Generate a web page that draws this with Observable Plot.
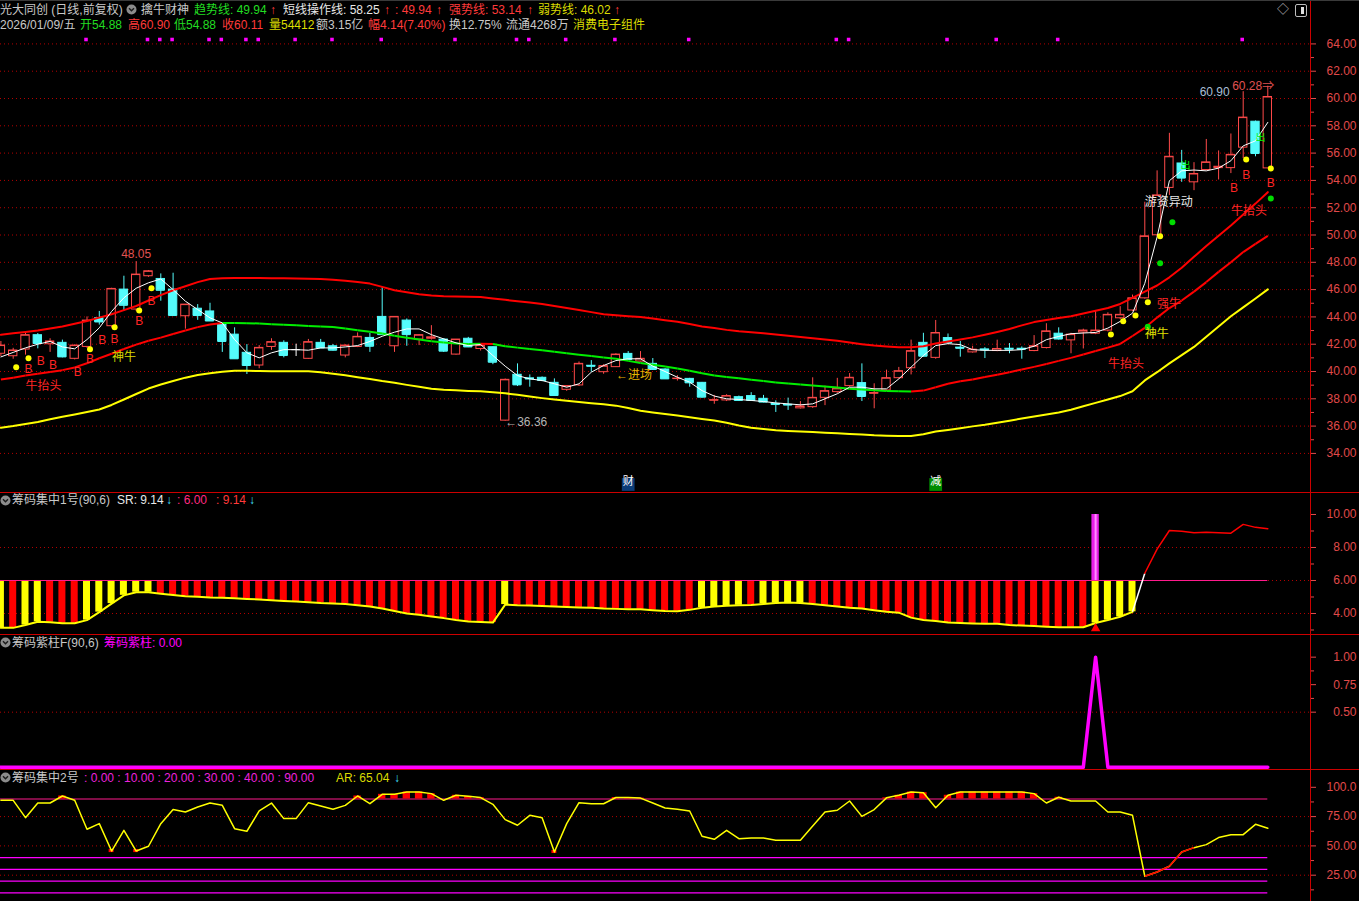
<!DOCTYPE html>
<html><head><meta charset="utf-8">
<script src="https://cdn.jsdelivr.net/npm/d3@7"></script>
<script src="https://cdn.jsdelivr.net/npm/@observablehq/plot@0.6"></script>
<style>
body{margin:0;background:#000;overflow:hidden;}
#root{position:relative;width:1359px;height:901px;background:#000;font-family:"Liberation Sans","Noto Sans CJK SC",sans-serif;font-size:12px;overflow:hidden;}
.pane{position:absolute;left:0;}
.t{position:absolute;white-space:nowrap;line-height:14px;font-size:12px;z-index:5;}
.sep{position:absolute;left:0;width:1359px;height:1px;background:#cc0000;z-index:4;}
.ico{position:absolute;z-index:5;}
</style></head><body><div id="root"></div>
<script>
// ================= DATA =================
// K-line (daily, 104 bars)
const open  = [41.3,41.12,41.61,42.66,42.0,42.1,40.93,41.8,43.9,43.32,
  46.0,44.54,46.98,46.78,46.0,44.05,44.6,44.4,43.44,42.7,
  41.37,40.44,41.8,42.1,41.6,40.93,42.1,41.85,41.17,41.8,
  42.46,44.0,41.85,43.73,42.34,42.4,42.34,41.24,42.4,41.65,
  41.78,36.4,39.76,39.5,39.54,39.17,38.66,38.98,40.42,39.95,
  40.32,41.29,40.73,40.56,40.15,39.46,39.46,39.17,37.88,37.88,
  38.12,38.2,38.0,37.62,37.56,37.3,37.39,38.07,38.49,38.93,
  39.15,38.38,38.61,39.51,40.24,42.1,41.0,42.45,41.75,41.4,
  41.62,41.5,41.67,41.67,41.5,41.72,42.77,42.28,42.86,42.77,
  43.0,43.9,44.47,45.36,49.98,53.45,55.24,53.86,54.76,54.9,
  54.9,56.4,58.3,54.88];
const high  = [42.2,41.7,42.8,42.78,42.4,42.3,41.95,44.0,44.4,46.1,
  46.98,48.05,47.4,47.15,47.2,44.9,44.9,45.0,43.44,43.2,
  41.97,41.9,42.4,42.25,42.0,42.35,42.35,41.98,41.95,42.83,
  42.8,46.15,44.0,43.85,42.7,43.36,42.4,42.34,42.5,41.95,
  41.8,39.45,40.56,39.75,39.6,39.46,38.95,40.7,40.8,40.5,
  41.3,41.46,41.46,40.95,40.2,39.7,39.5,39.2,38.25,38.3,
  38.2,38.45,38.25,37.85,38.05,37.8,39.54,38.93,39.5,39.85,
  40.56,39.1,40.1,40.3,42.3,42.8,43.74,42.75,42.2,41.85,
  41.75,42.3,42.05,41.8,42.63,43.5,43.2,42.8,43.1,44.47,
  44.3,44.75,45.6,52.4,54.7,57.45,56.2,55.3,57.0,56.16,
  57.4,60.5,58.35,60.9];
const low   = [41.1,40.9,41.2,41.66,41.4,41.0,40.85,41.7,43.4,43.2,
  44.4,44.4,46.9,45.15,44.1,43.1,43.75,43.7,41.4,40.93,
  39.78,40.2,41.55,41.0,41.1,40.9,41.7,41.5,41.0,41.75,
  41.4,42.7,41.4,41.85,41.9,42.3,41.4,41.2,41.75,41.5,
  40.5,36.36,38.9,38.85,39.25,38.2,38.55,38.9,39.95,39.8,
  40.3,40.85,40.7,40.1,39.45,39.3,38.85,38.05,37.6,37.8,
  37.8,37.8,37.7,37.0,37.15,37.25,37.3,37.5,38.4,38.85,
  37.8,37.27,38.55,39.45,39.75,41.05,40.9,42.0,41.05,41.35,
  40.95,41.45,41.3,40.9,41.45,41.65,42.3,41.3,41.65,42.7,
  42.9,43.8,44.4,45.3,49.9,52.9,53.86,53.25,54.7,54.03,
  54.5,55.6,55.73,54.88];
const close = [41.9,41.54,42.66,42.05,42.2,41.07,41.9,43.73,43.63,46.05,
  44.85,47.1,47.34,45.95,44.1,44.9,44.1,43.7,42.2,40.93,
  40.44,41.73,42.15,41.17,41.6,42.15,41.73,41.56,41.9,42.54,
  41.85,42.7,44.0,42.7,42.66,42.5,41.49,42.34,41.8,41.9,
  40.68,39.39,39.02,39.45,39.34,38.24,38.93,40.56,40.38,40.39,
  41.24,40.88,40.93,40.15,39.46,39.48,39.17,38.12,37.9,38.2,
  37.88,37.88,37.76,37.58,37.54,37.44,38.07,38.56,38.73,39.54,
  38.17,38.42,39.51,40.02,41.49,41.12,42.82,42.1,41.7,41.6,
  41.58,41.65,41.63,41.62,41.85,42.94,42.38,42.7,43.0,43.0,
  44.15,44.15,45.36,49.9,52.9,55.73,54.17,54.47,55.32,55.0,
  55.87,58.6,55.97,60.11];

// 短线操作线 (white)
const shortLine = [41.07,41.4,41.73,42.0,42.2,41.8,41.66,42.34,43.2,44.4,
  45.4,46.1,46.5,46.78,46.0,45.15,44.54,43.93,43.56,42.34,
  41.37,41.0,41.37,41.6,41.6,41.56,41.73,41.73,41.8,41.9,
  42.2,42.58,42.88,43.12,43.12,42.7,42.39,42.1,41.9,41.98,
  41.17,40.39,39.7,39.46,39.34,39.1,38.85,39.1,39.95,40.44,
  40.8,40.93,40.93,40.39,40.0,39.58,39.22,38.6,38.2,38.0,
  37.95,37.88,37.8,37.7,37.63,37.56,37.63,38.0,38.37,38.85,
  38.85,38.73,38.73,39.46,40.32,41.17,41.9,42.04,41.97,41.6,
  41.55,41.55,41.55,41.6,41.85,42.33,42.57,42.77,42.82,42.86,
  43.18,43.67,44.27,46.46,49.85,53.98,54.7,54.76,54.7,54.9,
  55.44,56.53,56.9,58.25];
// 强势线 (upper red)
const strongLine = [42.7,42.8,42.9,43.0,43.15,43.3,43.5,43.7,43.95,44.2,
  44.5,44.8,45.2,45.6,45.95,46.25,46.55,46.78,46.83,46.85,
  46.85,46.85,46.84,46.83,46.82,46.8,46.77,46.73,46.65,46.55,
  46.44,46.2,45.95,45.8,45.66,45.56,45.52,45.5,45.48,45.46,
  45.35,45.25,45.15,45.05,44.95,44.8,44.65,44.5,44.35,44.2,
  44.12,44.05,44.0,43.88,43.76,43.65,43.48,43.3,43.18,43.05,
  42.95,42.88,42.8,42.72,42.62,42.53,42.44,42.35,42.25,42.12,
  42.0,41.9,41.83,41.78,41.78,41.85,42.05,42.2,42.35,42.5,
  42.7,42.9,43.12,43.38,43.62,43.78,43.92,44.05,44.25,44.45,
  44.65,44.95,45.4,45.85,46.3,46.9,47.6,48.4,49.2,49.95,
  50.7,51.5,52.3,53.14];
// 趋势线 (middle, red rising / green falling)
const trendLine = [39.41,39.55,39.7,39.83,39.97,40.1,40.3,40.6,40.97,41.3,
  41.65,41.97,42.25,42.48,42.75,43.0,43.25,43.45,43.55,43.56,
  43.54,43.52,43.47,43.43,43.38,43.34,43.3,43.26,43.15,43.03,
  42.92,42.78,42.62,42.48,42.35,42.22,42.12,42.06,42.02,42.04,
  42.02,41.85,41.75,41.65,41.56,41.45,41.33,41.22,41.13,41.03,
  40.93,40.78,40.62,40.5,40.36,40.22,40.05,39.87,39.7,39.6,
  39.5,39.4,39.3,39.2,39.12,39.05,38.98,38.91,38.82,38.74,
  38.68,38.62,38.58,38.55,38.54,38.6,38.85,39.1,39.28,39.42,
  39.6,39.76,39.95,40.15,40.34,40.55,40.78,41.0,41.25,41.5,
  41.75,42.02,42.6,43.2,43.95,44.65,45.2,45.85,46.55,47.3,
  48.0,48.75,49.35,49.94];
const trendRuns = [["r",18],["g",21],["r",1],["g",34],["r",29]]; // segment colours
// 弱势线 (yellow)
const weakLine = [35.88,36.0,36.15,36.3,36.5,36.68,36.85,37.03,37.22,37.55,
  37.95,38.35,38.75,39.05,39.3,39.55,39.75,39.88,39.98,40.05,
  40.05,40.03,40.02,40.02,40.02,40.02,39.95,39.83,39.72,39.58,
  39.45,39.3,39.18,39.02,38.88,38.73,38.66,38.62,38.58,38.55,
  38.48,38.4,38.3,38.17,38.05,37.95,37.85,37.76,37.68,37.6,
  37.5,37.33,37.12,37.0,36.88,36.78,36.65,36.52,36.41,36.25,
  36.05,35.88,35.78,35.7,35.65,35.6,35.56,35.52,35.47,35.42,
  35.38,35.33,35.3,35.28,35.28,35.4,35.6,35.72,35.85,35.98,
  36.1,36.25,36.4,36.55,36.7,36.85,37.0,37.2,37.45,37.7,
  37.95,38.2,38.55,39.35,39.95,40.6,41.2,41.8,42.55,43.3,
  44.05,44.7,45.35,46.02];
const priceTicks = [34,36,38,40,42,44,46,48,50,52,54,56,58,60,62,64];
const priceMinor = [35,37,39,41,43,45,47,49,51,53,55,57,59,61,63];

// signals on the K-line
const topMarkIdx = [7,12,13,14,17,18,20,21,24,27,31,37,42,43,46,50,56,68,69,77,81,86,101];
const yellowSigIdx   = [1,2,7,9,11,12,90,91,92,93,94,101,103];
const yellowSigPrice = [40.32,40.98,41.63,43.25,44.47,46.1,42.71,43.68,44.1,45.08,49.91,55.53,54.87];
const greenSigIdx    = [93,94,95,103];
const greenSigPrice  = [43.27,47.93,50.94,52.67];
const bIdx   = [2,3,4,6,7,8,9,11,12,100,101,103];
const bPrice = [40.2,40.75,40.44,39.95,40.93,42.32,42.37,43.66,45.13,53.46,54.36,53.8];
const noteText   = ["48.05","←36.36","←进场","牛抬头","神牛","游资异动","强牛","神牛","牛抬头","牛抬头","60.90","60.28⇒"];
const noteIdx    = [11,41,50,2,10,93,94,93,90,100,99.9,100.1];
const notePrice  = [48.62,36.29,39.76,38.92,41.05,52.4,44.96,42.76,40.51,51.75,60.46,60.88];
const noteColor  = ["#e05252","#b4b4b4","#e6b400","#ff2424","#d8d800","#e8e8e8","#ff2424","#e0e000","#ff2424","#ff2424","#a9bfd6","#e05252"];
const noteAnchor = ["middle","start","start","start","middle","start","start","start","start","start","end","start"];
const chuIdx = [96.3,102.4], chuPrice = [55.09,57.14];
const flagText = ["财","减"], flagIdx = [51,76], flagBg = ["#0b3c78","#008c00"];

// 筹码集中1号 SR
const srValue = [3.13,3.13,3.3,3.5,3.47,3.41,3.41,3.6,4.08,4.6,
  5.1,5.29,5.29,5.2,5.12,5.05,5.02,4.97,4.95,4.92,
  4.88,4.85,4.8,4.76,4.72,4.68,4.63,4.6,4.57,4.5,
  4.42,4.3,4.15,4.0,3.92,3.82,3.72,3.6,3.52,3.48,
  3.45,4.54,4.5,4.48,4.45,4.42,4.4,4.37,4.35,4.3,
  4.28,4.26,4.25,4.2,4.15,4.14,4.22,4.35,4.42,4.47,
  4.5,4.52,4.58,4.63,4.66,4.63,4.58,4.5,4.42,4.35,
  4.3,4.2,4.1,4.05,3.75,3.6,3.54,3.45,3.42,3.4,
  3.38,3.38,3.3,3.27,3.24,3.2,3.17,3.17,3.17,3.42,
  3.6,3.8,4.1,6.44,7.9,9.03,8.99,8.9,8.93,8.9,
  8.87,9.4,9.22,9.14];
const srBarRuns = [["Y",1],["R",1],["Y",2],["R",3],["Y",6],["R",28],["Y",1],["R",15],["Y",4],["R",1],["Y",4],["R",23],["Y",4]];
const srLevel = 6, srPurpleIdx = 89, srPurpleTop = 10;
const srTicks = [4,6,8,10], srMinor = [3,5,7,9];

// 筹码紫柱F
const purpleF = [0,0,0,0,0,0,0,0,0,0, 0,0,0,0,0,0,0,0,0,0, 0,0,0,0,0,0,0,0,0,0,
  0,0,0,0,0,0,0,0,0,0, 0,0,0,0,0,0,0,0,0,0, 0,0,0,0,0,0,0,0,0,0,
  0,0,0,0,0,0,0,0,0,0, 0,0,0,0,0,0,0,0,0,0, 0,0,0,0,0,0,0,0,0,1,
  0,0,0,0,0,0,0,0,0,0, 0,0,0,0];
const fTicks = [0.5,0.75,1], fMinor = [0.625,0.875];

// 筹码集中2号 AR
const arValue = [88.9,88.9,74.1,86.6,86.6,92.6,88.9,64.2,69.0,45.6,
  63.3,45.6,49.7,69.0,81.0,78.9,83.2,86.6,84.6,64.7,
  62.5,79.8,86.6,73.3,73.3,86.9,84.0,81.2,84.6,92.6,
  86.0,94.0,94.0,96.0,96.0,94.6,88.9,93.2,92.3,91.2,
  85.5,72.4,67.6,76.1,74.1,44.8,69.0,86.9,86.0,86.0,
  91.3,91.3,90.8,86.6,82.4,81.2,79.8,58.2,55.6,63.3,
  56.2,56.7,56.7,54.8,54.8,54.8,67.0,78.9,80.4,88.3,
  75.2,81.0,91.0,93.2,96.0,95.4,82.6,93.2,96.0,96.0,
  96.0,96.0,96.0,96.0,94.6,86.6,91.5,88.3,88.3,88.3,
  78.9,78.9,76.1,24.1,27.7,32.6,44.8,48.5,51.1,57.1,
  59.6,59.6,68.4,65.04];
const arLevels = [90,40,30,20,10];
const arRedSeg = [93,94,95,96];
const arLowIdx = [9,11,45];
const arTicks = [25,50,75,100], arMinor = [12.5,37.5,62.5,87.5];

// ================= LAYOUT =================
const W = 1359, AXIS_X = 1310, STEP = 12.3, X0 = 0.4;
const N = close.length;
const idx = d3.range(N);
const xDomain = [-X0 / STEP, (AXIS_X - X0) / STEP];
const xScale = {domain: xDomain, range: [0, AXIS_X], axis: null};
const AXC = "#e04a4a", GRID = "#b40000";
const FONT = '"Liberation Sans","Noto Sans CJK SC",sans-serif';
const UP = "#ff4a4a", DOWN = "#54fcfc", FLAT = "#ffffff";
const expand = runs => runs.flatMap(([c, n]) => Array(n).fill(c));
const trendColors = expand(trendRuns);
const srBarColors = expand(srBarRuns);
const base = {width: W, marginTop: 0, marginBottom: 0, marginLeft: 0, marginRight: W - AXIS_X,
  x: xScale, color: {type: "identity"},
  style: {background: "transparent", fontFamily: FONT, fontSize: "12px", overflow: "visible"}};
const grid = v => Plot.ruleY(v, {stroke: GRID, strokeDasharray: "1,3"});
function axis(ticks, minor, fmt) {
  return [
    Plot.axisY(ticks, {anchor: "right", tickSize: 5, tickPadding: 41, textAnchor: "end",
      tickFormat: fmt, stroke: AXC, fill: AXC, fontSize: 12, label: null}),
    Plot.axisY(minor, {anchor: "right", tickSize: 3, tickFormat: () => "", stroke: AXC, label: null})
  ];
}

// ---- main K-line pane ----
const candles = idx.map(i => ({i, o: open[i], h: high[i], l: low[i], c: close[i]}));
const cCol = d => d.c > d.o ? UP : d.c < d.o ? DOWN : FLAT;
const trendSegs = d3.range(N - 1).map(k => ({k, c: trendColors[k]}));
const notes = noteText.map((t, k) => ({t, i: noteIdx[k], p: notePrice[k], c: noteColor[k], a: noteAnchor[k]}));
const ySig = yellowSigIdx.map((i, k) => ({i, p: yellowSigPrice[k]}));
const gSig = greenSigIdx.map((i, k) => ({i, p: greenSigPrice[k]}));
const bSig = bIdx.map((i, k) => ({i, p: bPrice[k]}));
const chu = chuIdx.map((i, k) => ({i, p: chuPrice[k]}));
const flags = flagText.map((t, k) => ({t, i: flagIdx[k], bg: flagBg[k]}));

const mainPlot = Plot.plot({...base, height: 492,
  y: {domain: [31.136, 67.18], range: [492, 0]},
  marks: [
    grid(priceTicks),
    ...axis(priceTicks, priceMinor, d => d.toFixed(2)),
    Plot.ruleX(candles, {x: "i", y1: "l", y2: "h", stroke: cCol}),
    Plot.rect(candles, {x1: d => d.i - 0.34, x2: d => d.i + 0.34, y1: "o", y2: "c",
      fill: d => d.c < d.o ? DOWN : "#000", stroke: cCol}),
    Plot.ruleY(candles, {x1: d => d.i - 0.34, x2: d => d.i + 0.34, y: "c", stroke: cCol}),
    Plot.line(idx, {x: i => i, y: i => weakLine[i], stroke: "#ffff00", strokeWidth: 2}),
    Plot.line(idx, {x: i => i, y: i => strongLine[i], stroke: "#ff0000", strokeWidth: 2}),
    Plot.link(trendSegs, {x1: d => d.k, y1: d => trendLine[d.k], x2: d => d.k + 1, y2: d => trendLine[d.k + 1],
      stroke: d => d.c === "r" ? "#ff0000" : "#00ee00", strokeWidth: 2}),
    Plot.line(idx, {x: i => i, y: i => shortLine[i], stroke: "#ffffff", strokeWidth: 1}),
    Plot.dot(ySig, {x: "i", y: "p", r: 3, fill: "#ffff00", dx: 3}),
    Plot.dot(gSig, {x: "i", y: "p", r: 3, fill: "#00dd00", dx: 3}),
    Plot.text(bSig, {x: "i", y: "p", text: () => "B", fill: "#ff2424", dx: 3, fontSize: 12}),
    ...["start", "middle", "end"].map(a => Plot.text(notes.filter(n => n.a === a),
      {x: "i", y: "p", text: "t", fill: "c", textAnchor: a, fontSize: 12, fontFamily: FONT})),
    Plot.text(chu, {x: "i", y: "p", text: () => "出", fill: "#00ee00", fontSize: 10}),
    Plot.dot(topMarkIdx, {x: d => d, frameAnchor: "top", dy: 39, dx: -1, symbol: "square", r: 2, fill: "#ff00ff"}),
    Plot.dot(flags, {x: "i", frameAnchor: "bottom", dy: -8, symbol: "square", r: 7.2, fill: "bg"}),
    Plot.text(flags, {x: "i", frameAnchor: "bottom", dy: -8, text: "t", fill: "#ffffff", fontSize: 11})
  ]});

// ---- 筹码集中1号 ----
const srBars = srBarColors.map((c, i) => ({i, v: srValue[i], c}));
const nB = srBarColors.length;
const srPlot = Plot.plot({...base, height: 142,
  y: {domain: [2.727, 11.333], range: [142, 0]},
  marks: [
    grid([4, 6, 8]),
    ...axis(srTicks, srMinor, d => d.toFixed(2)),
    Plot.rect(srBars, {x1: d => d.i - 0.285, x2: d => d.i + 0.285, y1: srLevel, y2: "v",
      fill: d => d.c === "Y" ? "#ffff00" : "#ff0000"}),
    Plot.ruleY([srLevel], {x1: xDomain[0], x2: N - 1, stroke: "#ff1a8c", strokeWidth: 1.2}),
    Plot.rect([srPurpleIdx], {x1: d => d - 0.3, x2: d => d + 0.3, y1: srLevel, y2: srPurpleTop, fill: "#e81ee8"}),
    Plot.ruleX([srPurpleIdx], {x: d => d, y1: srLevel, y2: srPurpleTop, stroke: "#ff8cff", strokeWidth: 2}),
    Plot.line(d3.range(nB), {x: i => i, y: i => srValue[i], stroke: "#ffff00", strokeWidth: 2}),
    Plot.link([nB - 1], {x1: i => i, y1: i => srValue[i], x2: i => i + 1, y2: i => srValue[i + 1], stroke: "#ffffff", strokeWidth: 1.5}),
    Plot.line(d3.range(nB, N), {x: i => i, y: i => srValue[i], stroke: "#ff0000", strokeWidth: 1.5}),
    Plot.dot([srPurpleIdx], {x: d => d, frameAnchor: "bottom", dy: -6, symbol: "triangle", r: 3.5, fill: "#ff0000"})
  ]});

// ---- 筹码紫柱F ----
const fPlot = Plot.plot({...base, height: 135,
  y: {domain: [-0.021, 1.206], range: [135, 0]},
  marks: [
    grid([0.5]),
    ...axis(fTicks, fMinor, d => d.toFixed(2)),
    Plot.line(idx, {x: i => i, y: i => purpleF[i], stroke: "#ff00ff", strokeWidth: 3.5})
  ]});

// ---- 筹码集中2号 ----
const arHigh = idx.filter(i => arValue[i] > arLevels[0]);
const arPlot = Plot.plot({...base, height: 132,
  y: {domain: [2.56, 115.19], range: [132, 0]},
  marks: [
    grid([25, 50, 75]),
    ...axis(arTicks, arMinor, d => d === 100 ? "100.0" : d.toFixed(2)),
    Plot.ruleY(arLevels, {x1: xDomain[0], x2: N - 1, stroke: d => d === arLevels[0] ? "#ff1a8c" : "#ff00ff", strokeWidth: 1.2}),
    Plot.rect(arHigh, {x1: i => i - 0.3, x2: i => i + 0.3, y1: arLevels[0], y2: i => arValue[i], fill: "#ff0000"}),
    Plot.rect(arLowIdx, {x1: i => i - 0.2, x2: i => i + 0.2, y1: i => arValue[i] - 1.3, y2: i => arValue[i] + 1.3, fill: "#ff0000"}),
    Plot.line(idx, {x: i => i, y: i => arValue[i], stroke: "#ffff00", strokeWidth: 1.5}),
    Plot.link(arRedSeg, {x1: i => i, y1: i => arValue[i], x2: i => i + 1, y2: i => arValue[i + 1], stroke: "#ff0000", strokeWidth: 1.5})
  ]});

// ================= ASSEMBLE =================
const root = document.getElementById("root");
[[mainPlot, 0], [srPlot, 492], [fPlot, 634], [arPlot, 769]].forEach(([el, top]) => {
  const d = document.createElement("div");
  d.className = "pane"; d.style.top = top + "px";
  d.appendChild(el); root.appendChild(d);
});
[492, 634, 769].forEach(y => {
  const s = document.createElement("div"); s.className = "sep"; s.style.top = y + "px"; root.appendChild(s);
});
const topLine = document.createElement("div");
topLine.style.cssText = "position:absolute;left:0;top:0;width:1359px;height:1px;background:#3a3a3a;z-index:4";
root.appendChild(topLine);
const vAxis = document.createElement("div");
vAxis.style.cssText = `position:absolute;left:${AXIS_X}px;top:1px;width:1px;height:900px;background:#cc0000;z-index:4`;
root.appendChild(vAxis);

function txt(x, y, s, c) {
  const e = document.createElement("div"); e.className = "t";
  e.style.left = x + "px"; e.style.top = y + "px"; e.style.color = c; e.textContent = s;
  root.appendChild(e);
}
function icon(x, y) {
  const e = document.createElement("div"); e.className = "ico";
  e.style.left = x + "px"; e.style.top = y + "px";
  e.innerHTML = '<svg width="11" height="11"><circle cx="5.5" cy="5.5" r="5" fill="#8c8c8c"/><path d="M3 4.3 L5.5 6.8 L8 4.3" stroke="#1a1a1a" stroke-width="1.4" fill="none"/></svg>';
  root.appendChild(e);
}
const GR = "#c8c8c8", GN = "#22dd22", RD = "#ff3a3a", YL = "#dcdc00", CY = "#40e0ff", MG = "#ee22dd";
// header row 1
txt(0, 3, "光大同创 (日线,前复权)", GR); icon(126, 4);
txt(141, 3, "擒牛财神", GR);
txt(194, 3, "趋势线: 49.94", GN); txt(270, 3, "↑", RD);
txt(283, 3, "短线操作线: 58.25", "#e8e8e8"); txt(384, 3, "↑", RD);
txt(395, 3, ": 49.94", RD); txt(436, 3, "↑", RD);
txt(449, 3, "强势线: 53.14", RD); txt(527, 3, "↑", RD);
txt(538, 3, "弱势线: 46.02", YL); txt(614, 3, "↑", RD);
// header row 2
txt(0, 18, "2026/01/09/五", GR);
txt(80, 18, "开54.88", GN); txt(128, 18, "高60.90", RD); txt(174, 18, "低54.88", GN);
txt(222, 18, "收60.11", RD); txt(269, 18, "量54412", YL); txt(316, 18, "额3.15亿", GR);
txt(368, 18, "幅4.14(7.40%)", RD); txt(449, 18, "换12.75%", GR); txt(506, 18, "流通4268万", GR);
txt(573, 18, "消费电子组件", YL);
// top-right icons
txt(1277, 3, "◇", "#bdbdbd");
const box = document.createElement("div");
box.style.cssText = "position:absolute;left:1295px;top:4px;width:10px;height:11px;border:1px solid #bdbdbd;border-radius:2px;z-index:5";
box.innerHTML = '<div style="position:absolute;left:5px;top:2px;width:3px;height:7px;background:#e0e0e0"></div>';
root.appendChild(box);
// pane titles
icon(0, 495); txt(12, 493, "筹码集中1号(90,6)", GR); txt(117, 493, "SR: 9.14", "#e8e8e8");
txt(166, 493, "↓", CY); txt(177, 493, ": 6.00", "#ff2a80"); txt(216, 493, ": 9.14", RD); txt(249, 493, "↓", CY);
icon(0, 637); txt(12, 636, "筹码紫柱F(90,6)", GR); txt(104, 636, "筹码紫柱: 0.00", "#ff00ff");
icon(0, 772); txt(12, 771, "筹码集中2号", GR);
txt(84, 771, ": 0.00 : 10.00 : 20.00 : 30.00 : 40.00 : 90.00", MG);
txt(336, 771, "AR: 65.04", YL); txt(394, 771, "↓", CY);
</script></body></html>
